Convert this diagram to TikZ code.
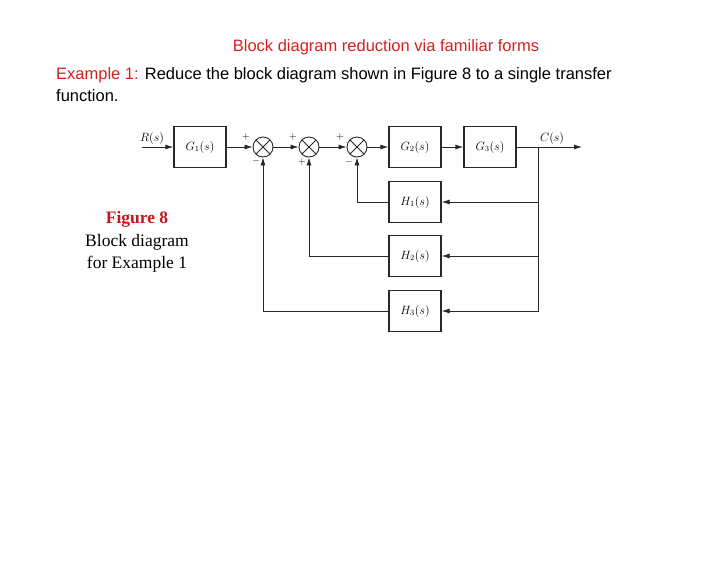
\documentclass[tikz,border=0pt]{standalone}
\usepackage[no-math]{fontspec}
\setmainfont{Liberation Sans}
\newfontfamily\capfont{Liberation Serif}
\usetikzlibrary{arrows.meta}

\definecolor{titlered}{RGB}{212,32,32}
\definecolor{figred}{RGB}{196,22,28}
\definecolor{linegray}{RGB}{40,40,40}

\tikzset{
  block/.style={draw=linegray, line width=1.3pt, minimum width=52pt, minimum height=41pt,
    inner sep=0pt, font=\fontsize{12}{14}\selectfont},
  sumnode/.style={draw=linegray, line width=0.9pt, circle, minimum size=20pt, inner sep=0pt,
    path picture={\draw[linegray, line width=0.9pt]
      (path picture bounding box.north west) -- (path picture bounding box.south east)
      (path picture bounding box.north east) -- (path picture bounding box.south west);}},
  sign/.style={font=\fontsize{10}{11}\selectfont, inner sep=0pt},
  sigtext/.style={font=\fontsize{11.5}{13}\selectfont, inner sep=0pt},
  wire/.style={draw=linegray, line width=0.8pt}
}

\begin{document}
\begin{tikzpicture}[x=1pt, y=-1pt, >={Latex[length=8pt,width=5pt]}]

  % Fix the page to the reference size
  \useasboundingbox (0,0) rectangle (728,563);

  % Heading and task text
  \node[text=titlered, font=\fontsize{16.5}{20}\selectfont] (title) at (386,47)
    {Block diagram reduction via familiar forms};
  \node[anchor=west, font=\fontsize{16.5}{20}\selectfont, inner sep=0pt] (task) at (56,75)
    {\textcolor{titlered}{Example 1:} Reduce the block diagram shown in Figure 8 to a single transfer};
  \node[anchor=west, font=\fontsize{16.5}{20}\selectfont, inner sep=0pt] (task2) at (56,96)
    {function.};

  % Caption of the figure
  \node[align=center, font=\capfont\fontsize{17.5}{22.5}\selectfont] (caption) at (137,242)
    {\textcolor{figred}{\textbf{Figure 8}}\\Block diagram\\for Example 1};

  % Forward path
  \coordinate (in) at (142,147);
  \node[block] (g1) at (200,147) {$G_1(s)$};
  \node[sumnode] (s1) at (263,147) {};
  \node[sumnode] (s2) at (309,147) {};
  \node[sumnode] (s3) at (357,147) {};
  \node[block] (g2) at (415,147) {$G_2(s)$};
  \node[block] (g3) at (490,147) {$G_3(s)$};
  \coordinate (br) at (538,147);
  \coordinate (out) at (582,147);

  % Feedback blocks
  \node[block] (h1) at (415,202) {$H_1(s)$};
  \node[block] (h2) at (415,256) {$H_2(s)$};
  \node[block] (h3) at (415,311) {$H_3(s)$};

  % Signal names
  \node[sigtext] (rlab) at (152,138) {$R(s)$};
  \node[sigtext] (clab) at (552,138) {$C(s)$};

  % Signs at the summing junctions
  \node[sign] (s1a) at (246,137) {$+$};
  \node[sign] (s1b) at (256,161) {$-$};
  \node[sign] (s2a) at (293,137) {$+$};
  \node[sign] (s2b) at (302,162) {$+$};
  \node[sign] (s3a) at (340,137) {$+$};
  \node[sign] (s3b) at (349,162) {$-$};

  % Forward connections
  \draw[wire, ->] (in) -- (g1);
  \draw[wire, ->] (g1) -- (s1);
  \draw[wire, ->] (s1) -- (s2);
  \draw[wire, ->] (s2) -- (s3);
  \draw[wire, ->] (s3) -- (g2);
  \draw[wire, ->] (g2) -- (g3);
  \draw[wire, ->] (g3.east) -- (out);

  % Feedback connections
  \draw[wire, ->] (br) |- (h1.east);
  \draw[wire, ->] (br) |- (h2.east);
  \draw[wire, ->] (br) |- (h3.east);
  \draw[wire, ->] (h1.west) -| (s3.south);
  \draw[wire, ->] (h2.west) -| (s2.south);
  \draw[wire, ->] (h3.west) -| (s1.south);

\end{tikzpicture}
\end{document}
